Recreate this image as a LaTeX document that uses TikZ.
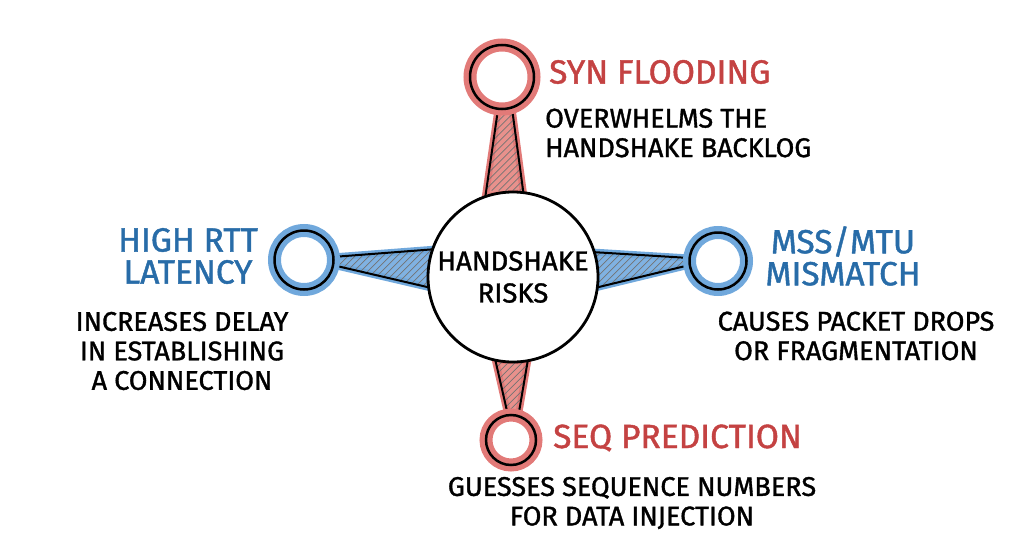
\documentclass[tikz,border=0pt]{standalone}
\usepackage{fontspec}
\usepackage{tikz}
\usetikzlibrary{calc}
\newfontfamily\handfont[FakeStretch=1.0, FakeBold=1.3]{Fira Sans}
\definecolor{riskred}{RGB}{196,66,66}
\definecolor{ringred}{RGB}{226,122,120}
\definecolor{neckred}{RGB}{232,145,140}
\definecolor{riskblue}{RGB}{40,108,168}
\definecolor{ringblue}{RGB}{112,168,220}
\definecolor{neckblue}{RGB}{128,178,226}
\pgfdeclarelayer{background}
\pgfsetlayers{background,main}
\tikzset{
    ring/.style={shape=circle, draw=black, line width=2.5pt, outer sep=0pt,
        preaction={draw=#1, line width=13pt}},
    hub/.style={shape=circle, draw=black, line width=2.8pt, fill=white, minimum size=170pt,
        inner sep=0pt, outer sep=0pt, align=center, font=\handfont\fontsize{27.5}{32}\selectfont},
    head/.style={inner sep=0pt, align=center, font=\handfont\fontsize{33.5}{32}\selectfont},
    note/.style={inner sep=0pt, align=center, font=\handfont\fontsize{27}{29.5}\selectfont},
    hatch/.style={black!55, line width=0.7pt},
    neckside/.style={black, line width=2pt, line cap=round}}
% tapered neck: ring side (#1,#2), hub side (#3,#4), halo colour, fill colour
\newcommand{\neck}[6]{%
    \draw[line width=7pt, #5, fill=#6, line join=round] (#1) -- (#2) -- (#3) -- (#4) -- cycle;
    \begin{scope}
        \clip (#1) -- (#2) -- (#3) -- (#4) -- cycle;
        \foreach \k in {-84,-77,...,84}
            \draw[hatch] ($(#1)!0.5!(#3)+(\k-40,40)$) -- ++(80,-80);
    \end{scope}
    \draw[neckside] (#1) -- (#4) (#2) -- (#3);}

\begin{document}
\begin{tikzpicture}[x=1pt, y=-1pt]
    \useasboundingbox (0,0) rectangle (1024,559);

    % rings and hub
    \node[ring=ringred, minimum size=64pt] (syn) at (502,77) {};
    \node[ring=ringred, minimum size=50pt] (seq) at (511,440) {};
    \node[ring=ringblue, minimum size=59pt] (rtt) at (304,260) {};
    \node[ring=ringblue, minimum size=57pt] (mss) at (718,261) {};
    \node[hub] (hub) at (513,277) {HANDSHAKE\\RISKS};

    % necks behind them
    \begin{pgfonlayer}{background}
        \neck{syn.-97}{syn.-72}{hub.83}{hub.109}{ringred}{neckred}
        \neck{seq.97}{seq.73}{hub.-80}{hub.-102}{ringred}{neckred}
        \neck{rtt.6}{rtt.-10}{hub.187}{hub.161}{ringblue}{neckblue}
        \neck{mss.174}{mss.188}{hub.-7}{hub.17}{ringblue}{neckblue}
    \end{pgfonlayer}

    % labels
    \node[head, riskred, anchor=west] (synhead) at (549,72) {SYN FLOODING};
    \node[note, align=left, anchor=west] (synnote) at (545,133) {OVERWHELMS THE\\HANDSHAKE BACKLOG};

    \node[head, riskblue] (rtthead) at (188,256) {HIGH RTT\\LATENCY};
    \node[note] (rttnote) at (182,351) {INCREASES DELAY\\IN ESTABLISHING\\A CONNECTION};

    \node[head, riskblue] (msshead) at (843,256) {MSS/MTU\\MISMATCH};
    \node[note] (mssnote) at (856,336) {CAUSES PACKET DROPS\\OR FRAGMENTATION};

    \node[head, riskred, anchor=west] (seqhead) at (553,438) {SEQ PREDICTION};
    \node[note] (seqnote) at (632,503) {GUESSES SEQUENCE NUMBERS\\FOR DATA INJECTION};

\end{tikzpicture}
\end{document}
